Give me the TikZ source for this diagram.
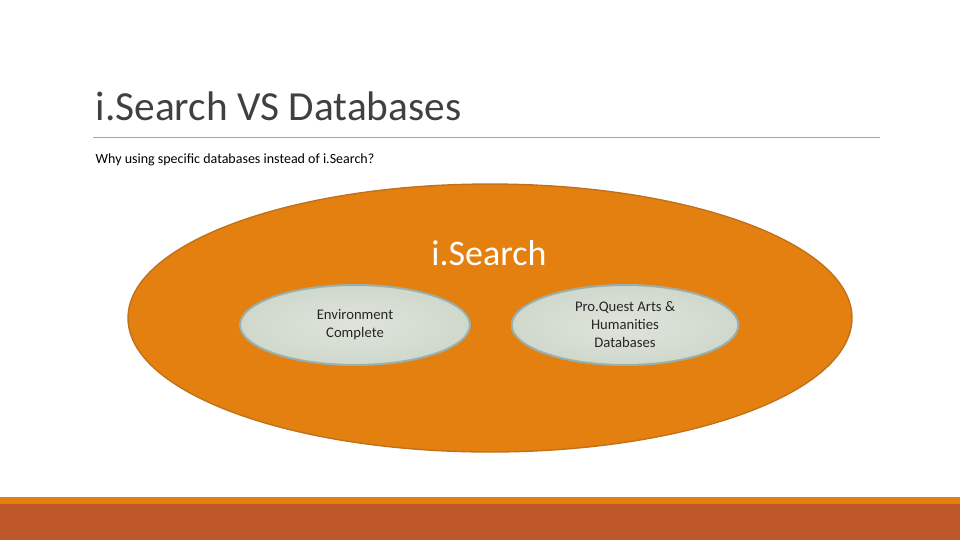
\documentclass[tikz,border=0pt]{standalone}
\usepackage{fontspec}
\setmainfont{Carlito}
\usetikzlibrary{shapes.geometric}
\definecolor{isorange}{HTML}{E3800F}
\definecolor{isedge}{HTML}{C0701A}
\definecolor{isrust}{HTML}{BE582A}
\definecolor{dbfill}{HTML}{D0D8CC}
\definecolor{dbedge}{HTML}{9AB0AE}
\tikzset{
  dbbubble/.style={ellipse, draw=dbedge, line width=1.5pt, inner color=dbfill!70!white, outer color=dbfill,
    minimum width=172.5pt, minimum height=60pt, align=center, font=\fontsize{11}{13.5}\selectfont, text=black!85}
}
\begin{document}
\begin{tikzpicture}[x=0.75pt,y=-0.75pt]
	\useasboundingbox (0,0) rectangle (960,540);
	\fill[isorange] (0,497) rectangle (960,504);
	\fill[isrust] (0,504) rectangle (960,540);
	\draw[gray!70] (93,137) -- (880,137);
	
	\node[anchor=west, font=\fontsize{31}{36}\selectfont, text=black!75] (title) at (91,106) {i.Search VS Databases};
	\node[anchor=west, font=\fontsize{10.5}{12}\selectfont] (question) at (91,160) {Why using specific databases instead of i.Search?};
	
	\node[ellipse, fill=isorange, draw=isedge, line width=1pt, minimum width=543pt, minimum height=201pt] (isearch) at (490,318) {};
	\node[font=\fontsize{27}{32}\selectfont, text=white] (isearchlabel) at (489,253) {i.Search};
	
	\node[dbbubble] (envcomplete) at (355,325) {Environment\\Complete};
	\node[dbbubble, minimum width=170pt] (proquest) at (625,325) {Pro.Quest Arts \&\\Humanities\\Databases};
\end{tikzpicture}
\end{document}
